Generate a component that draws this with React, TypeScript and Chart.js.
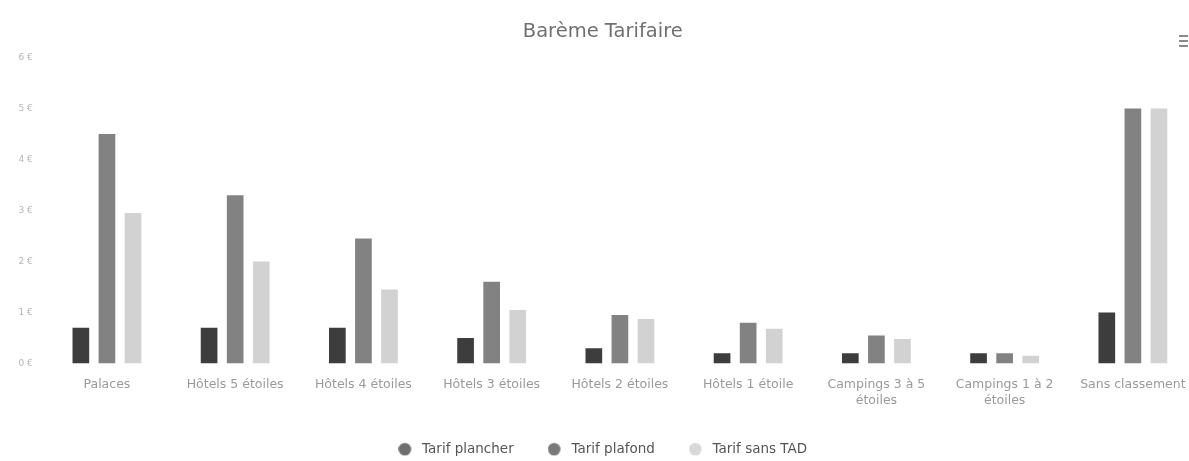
import React, { useEffect, useRef } from "react";
import { Chart, registerables } from "chart.js";

Chart.register(...registerables);

const categories: (string | string[])[] = [
  "Palaces",
  "Hôtels 5 étoiles",
  "Hôtels 4 étoiles",
  "Hôtels 3 étoiles",
  "Hôtels 2 étoiles",
  "Hôtels 1 étoile",
  ["Campings 3 à 5", "étoiles"],
  ["Campings 1 à 2", "étoiles"],
  "Sans classement",
];

const tarifPlancher = [0.7, 0.7, 0.7, 0.5, 0.3, 0.2, 0.2, 0.2, 1];
const tarifPlafond = [4.5, 3.3, 2.45, 1.6, 0.95, 0.8, 0.55, 0.2, 5];
const tarifSansTAD = [2.95, 2.0, 1.45, 1.05, 0.87, 0.68, 0.48, 0.15, 5];

const seriesNames = ["Tarif plancher", "Tarif plafond", "Tarif sans TAD"];
const barColors = ["#3d3d3d", "#828282", "#d2d2d2"];
const legendColors = ["#6f6f6f", "#7a7a7a", "#d8d8d8"];

function legendDot(color: string) {
  const c = document.createElement("canvas");
  c.width = 17;
  c.height = 14;
  const ctx = c.getContext("2d")!;
  ctx.fillStyle = color;
  ctx.beginPath();
  ctx.arc(6.5, 7, 6.3, 0, Math.PI * 2);
  ctx.fill();
  return c;
}

const menuIcon = {
  id: "menuIcon",
  afterDraw(chart: any) {
    const ctx = chart.ctx;
    ctx.save();
    ctx.strokeStyle = "#8a8a8a";
    ctx.lineWidth = 2;
    [36, 41, 46].forEach((y) => {
      ctx.beginPath();
      ctx.moveTo(1179, y);
      ctx.lineTo(1188, y);
      ctx.stroke();
    });
    ctx.restore();
  },
};

export default function App() {
  const ref = useRef<HTMLCanvasElement>(null);
  useEffect(() => {
    if (!ref.current) return;
    const dots = legendColors.map(legendDot);
    const chart = new Chart(ref.current, {
      type: "bar",
      data: {
        labels: categories,
        datasets: [tarifPlancher, tarifPlafond, tarifSansTAD].map((d, i) => ({
          label: seriesNames[i],
          data: d,
          backgroundColor: barColors[i],
          borderWidth: 0,
          categoryPercentage: 0.61,
          barPercentage: 0.64,
        })),
      },
      options: {
        animation: false,
        responsive: false,
        maintainAspectRatio: false,
        layout: { padding: { left: 8.5, right: 3, top: 0, bottom: -5 } },
        plugins: {
          title: {
            display: true,
            text: "Barème Tarifaire",
            color: "#707070",
            font: { family: "'DejaVu Sans', sans-serif", size: 19.5, weight: "normal" },
            padding: { top: 20.5, bottom: 13.5 },
          },
          legend: {
            position: "bottom",
            labels: {
              usePointStyle: true,
              pointStyleWidth: 17,
              boxHeight: 13,
              padding: 34,
              color: "#555555",
              font: { family: "'DejaVu Sans', sans-serif", size: 13.5 },
              generateLabels(chart: any) {
                const items = Chart.defaults.plugins.legend.labels.generateLabels(chart);
                items.forEach((it: any, i: number) => {
                  it.fillStyle = legendColors[i];
                  it.strokeStyle = legendColors[i];
                  it.lineWidth = 0;
                  it.pointStyle = dots[i];
                });
                return items;
              },
            },
          },
          tooltip: { enabled: false },
        },
        scales: {
          x: {
            grid: { display: false, drawTicks: false },
            border: { display: false },
            afterFit: (s: any) => {
              s.height = 45;
            },
            ticks: {
              color: "#9a9a9a",
              font: { family: "'DejaVu Sans', sans-serif", size: 12.5, lineHeight: 1.3 },
              padding: 13,
              maxRotation: 0,
              autoSkip: false,
            },
          },
          y: {
            min: 0,
            max: 6,
            grid: { display: false, drawTicks: false },
            border: { display: false },
            ticks: {
              stepSize: 1,
              color: "#b5b5b5",
              font: { family: "'DejaVu Sans', sans-serif", size: 9 },
              padding: 10,
              callback: (v: any) => v + " €",
            },
          },
        },
      },
      plugins: [menuIcon],
    });
    return () => chart.destroy();
  }, []);
  return (
    <div style={{ position: "fixed", left: 0, top: 0, width: 1189, height: 461, background: "#fff", overflow: "hidden" }}>
      <canvas ref={ref} width={1200} height={461} style={{ width: 1200, height: 461 }} />
    </div>
  );
}
